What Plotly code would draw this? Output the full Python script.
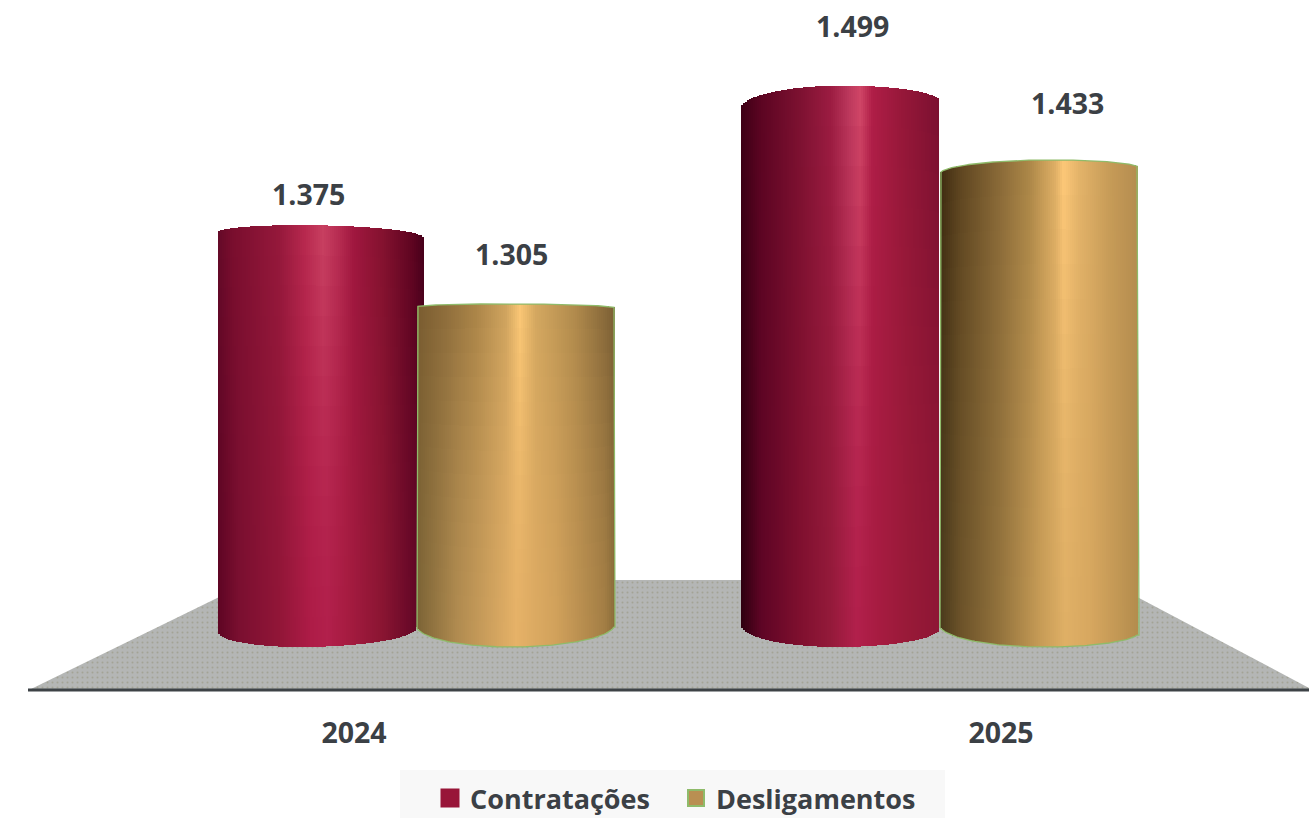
import numpy as np
import plotly.graph_objects as go

# ---- data (values as shown in the chart, Brazilian thousands notation) ----
years = ["2024", "2025"]
series_names = ["Contratações", "Desligamentos"]
contratacoes = [1.375, 1.499]
desligamentos = [1.305, 1.433]
axis_floor_value = 1.0
TICK_POS = [354, 1001]

W, H = 1309, 818
AXIS_PY = 690
PLOT_PY = 692
PX_PER_UNIT = 1125.0
ZERO_PY = 1772.0


def val(py):
    return (ZERO_PY - py) / PX_PER_UNIT


def hex2rgb(h):
    return np.array([int(h[i:i + 2], 16) for i in (1, 3, 5)], dtype=float)


def ramp(stops, u):
    us = [s[0] for s in stops]
    rgb = np.array([hex2rgb(s[1]) for s in stops])
    return np.array([np.interp(u, us, rgb[:, i]) for i in range(3)])


RED_A_TOP = [(0, "#640a28"), (.07, "#7a0e2e"), (.3, "#96193c"), (.42, "#b8294f"), (.51, "#c94162"),
             (.58, "#b92f54"), (.66, "#a0173f"), (.8, "#84122f"), (.95, "#5c0420"), (1, "#45001a")]
RED_A_BOT = [(0, "#5e0524"), (.1, "#7a0f30"), (.3, "#921638"), (.45, "#ae1c47"), (.53, "#b2204c"),
             (.62, "#a81c42"), (.8, "#8a1532"), (1, "#5a0424")]
RED_C_TOP = [(0, "#3f0016"), (.1, "#5c0522"), (.3, "#7e1232"), (.45, "#9c1c42"), (.55, "#c03c60"),
             (.6, "#d24868"), (.66, "#b01e48"), (.8, "#98183a"), (1, "#7a1030")]
RED_C_BOT = [(0, "#2e0010"), (.1, "#5e0525"), (.3, "#80102f"), (.45, "#941a3a"), (.58, "#b2204c"),
             (.68, "#a81c42"), (.85, "#981a38"), (1, "#8e1635")]
GOLD_B_TOP = [(0, "#7a5c30"), (.15, "#8f6e3c"), (.3, "#ab8548"), (.45, "#d0a45f"), (.52, "#fcc876"),
              (.6, "#d4a860"), (.8, "#b08a4c"), (1, "#7a5e34")]
GOLD_B_BOT = [(0, "#7c6436"), (.2, "#b08b50"), (.5, "#e6b268"), (.7, "#d2a25c"), (.95, "#a37e45"), (1, "#8a6d3a")]
GOLD_D_TOP = [(0, "#3e2a10"), (.1, "#5e4520"), (.3, "#8a6a38"), (.45, "#ac8748"), (.58, "#e0b066"),
              (.62, "#ffc979"), (.7, "#e4b46a"), (.85, "#c79c58"), (1, "#b48c50")]
GOLD_D_BOT = [(0, "#4a3a1c"), (.1, "#6b5229"), (.3, "#93733d"), (.5, "#c69b56"), (.63, "#e0b066"),
              (.75, "#d8a860"), (1, "#b38c4d")]

# cylinder drawing geometry: extents, crest positions, edge drops (px)
cyl = [
    dict(v=contratacoes[0], xl=218, xr=424, xc=297, tl=7, tr=13, xbc=300, xbr=417, bl=15, br=20,
         top=RED_A_TOP, bot=RED_A_BOT, outline=None),
    dict(v=desligamentos[0], xl=417, xr=615, xc=505, tl=3, tr=4, xbc=510, xbr=615, bl=21, br=23,
         top=GOLD_B_TOP, bot=GOLD_B_BOT, outline="#8fbb6a"),
    dict(v=contratacoes[1], xl=741, xr=940, xc=843, tl=23, tr=16, xbc=838, xbr=940, bl=22, br=19,
         top=RED_C_TOP, bot=RED_C_BOT, outline=None),
    dict(v=desligamentos[1], xl=940, xr=1139, xc=1053, tl=14, tr=8, xbc=1045, xbr=1139, bl=22, br=15,
         top=GOLD_D_TOP, bot=GOLD_D_BOT, outline="#8fbb6a"),
]


def drop(x, xl, xc, xr, dl, dr):
    if x <= xc:
        u = min(1.0, (xc - x) / (xc - xl))
        return dl * (1 - np.sqrt(1 - u * u))
    u = min(1.0, (x - xc) / (xr - xc))
    return dr * (1 - np.sqrt(1 - u * u))


fig = go.Figure()

# floor (bottom subplot layer)
fig.add_trace(go.Scatter(
    x=[29, 254, 1105, 1313, 29], y=[val(AXIS_PY), val(580), val(580), val(AXIS_PY), val(AXIS_PY)],
    mode="lines", line=dict(width=0), fill="toself", fillcolor="#b3b5b3",
    fillpattern=dict(shape=".", size=5, solidity=0.12, fgcolor="#a3a395", bgcolor="#b4b6b5", fillmode="replace"),
    hoverinfo="skip", showlegend=False))
fig.add_trace(go.Scatter(
    x=[28, W], y=[val(AXIS_PY), val(AXIS_PY)], mode="lines",
    line=dict(color="#3d4246", width=3), hoverinfo="skip", showlegend=False))

STEP = 2
BANDS = 14
for c in cyl:
    xs, bases, heights, widths, colors = [], [], [], [], []
    top_curve, bot_curve, cx = [], [], []
    for x in np.arange(c["xl"] + STEP / 2, c["xr"], STEP):
        u = (x - c["xl"]) / (c["xr"] - c["xl"])
        y_top = c["v"] - drop(x, c["xl"], c["xc"], c["xr"], c["tl"], c["tr"]) / PX_PER_UNIT
        y_bot = axis_floor_value + drop(min(x, c["xbr"]), c["xl"], c["xbc"], c["xbr"], c["bl"], c["br"]) / PX_PER_UNIT
        ct, cb = ramp(c["top"], u), ramp(c["bot"], u)
        edges = np.linspace(y_bot, y_top, BANDS + 1)
        for k in range(BANDS):
            t = (k + .5) / BANDS
            rgb = cb + (ct - cb) * t ** 1.6
            xs.append(x)
            widths.append(STEP + .3)
            bases.append(edges[k])
            heights.append(edges[k + 1] - edges[k] + (0.002 if k < BANDS - 1 else 0))
            colors.append("rgb(%d,%d,%d)" % tuple(rgb))
        cx.append(x); top_curve.append(y_top); bot_curve.append(y_bot)
    fig.add_trace(go.Bar(x=xs, y=heights, base=bases, width=widths, xaxis="x2", yaxis="y2",
                         marker=dict(color=colors, line=dict(width=0)),
                         hoverinfo="skip", showlegend=False))
    if c["outline"]:
        fig.add_trace(go.Scatter(
            x=[c["xl"]] + cx + [c["xr"]] + cx[::-1] + [c["xl"]],
            y=[bot_curve[0]] + top_curve + [bot_curve[-1]] + bot_curve[::-1] + [bot_curve[0]],
            xaxis="x2", yaxis="y2",
            mode="lines", line=dict(color=c["outline"], width=1.3),
            hoverinfo="skip", showlegend=False))

# legend entries
fig.add_trace(go.Scatter(x=[None], y=[None], mode="markers", name=series_names[0],
                         marker=dict(symbol="square", size=16, color="#981538",
                                     line=dict(color="#981538", width=3))))
fig.add_trace(go.Scatter(x=[None], y=[None], mode="markers", name=series_names[1],
                         marker=dict(symbol="square", size=16, color="#b98f52",
                                     line=dict(color="#8fbb6a", width=2))))

# value labels
label_x = [308, 852, 511, 1067]
label_py = [194, 26, 254, 103]
label_vals = contratacoes + desligamentos
annotations = []
for xp, py, v in zip(label_x, label_py, label_vals):
    annotations.append(dict(x=xp, y=v, yshift=(ZERO_PY - v * PX_PER_UNIT) - py,
                            text=f"{v:.3f}", showarrow=False, xanchor="center", yanchor="middle",
                            font=dict(family="Open Sans", size=28.5, color="#3b4045", weight=700)))

fig.update_layout(
    width=W, height=H, margin=dict(l=0, r=0, t=0, b=H - PLOT_PY, pad=0),
    paper_bgcolor="white", plot_bgcolor="rgba(0,0,0,0)", barmode="overlay", bargap=0,
    showlegend=True,
    legend=dict(orientation="h", xref="container", yref="container", x=430 / W, xanchor="left",
                y=1 - 774 / H, yanchor="top", entrywidth=201, entrywidthmode="pixels",
                bgcolor="rgba(0,0,0,0)", traceorder="normal", itemwidth=30,
                font=dict(family="Open Sans", size=27, color="#3b4045", weight=700)),
    xaxis=dict(range=[0, W], tickvals=TICK_POS, ticktext=years, showgrid=False, zeroline=False,
               showline=False, ticks="outside", ticklen=16, tickcolor="rgba(0,0,0,0)",
               tickfont=dict(family="Open Sans", size=28.5, color="#3b4045", weight=700)),
    yaxis=dict(range=[val(PLOT_PY), val(0)], visible=False),
    xaxis2=dict(range=[0, W], overlaying="x", visible=False),
    yaxis2=dict(range=[val(PLOT_PY), val(0)], overlaying="y", visible=False),
    shapes=[dict(type="rect", xref="paper", yref="paper", x0=400 / W, x1=945 / W,
                 y0=(PLOT_PY - 818) / PLOT_PY, y1=(PLOT_PY - 770) / PLOT_PY,
                 fillcolor="#f8f8f8", line=dict(width=0), layer="below")],
    annotations=annotations,
)

fig.write_html("out.html", config=dict(displayModeBar=False),
               post_script="document.body.style.margin='0';")
